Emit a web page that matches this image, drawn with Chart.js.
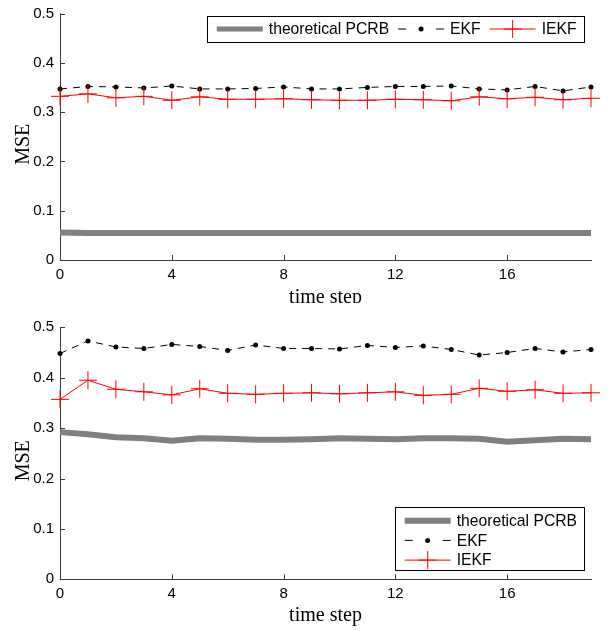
<!DOCTYPE html>
<html>
<head>
<meta charset="utf-8">
<script src="https://cdn.jsdelivr.net/npm/chart.js@4.4.1/dist/chart.umd.min.js"></script>
<style>
    html, body { margin: 0; padding: 0; background: #fff; }
    #wrap { position: relative; width: 611px; height: 631px; overflow: hidden; }
    canvas { position: absolute; left: 0; background: #fff; }
    #topChart { top: 0; }
    #bottomChart { top: 303px; }
</style>
</head>
<body>
<div id="wrap">
    <canvas id="topChart" width="611" height="320"></canvas>
    <canvas id="bottomChart" width="611" height="328"></canvas>
</div>
<script>
// ---- data ----
const timeSteps = [0, 1, 2, 3, 4, 5, 6, 7, 8, 9, 10, 11, 12, 13, 14, 15, 16, 17, 18, 19];
const xTickValues = [0, 4, 8, 12, 16];
const yTickValues = [0, 0.1, 0.2, 0.3, 0.4, 0.5];
const yTickLabels = ['0', '0.1', '0.2', '0.3', '0.4', '0.5'];
const seriesNames = ['theoretical PCRB', 'EKF', 'IEKF'];

// upper panel
const topPcrb = [0.056, 0.055, 0.055, 0.055, 0.055, 0.055, 0.055, 0.055, 0.055, 0.055,
                 0.055, 0.055, 0.055, 0.055, 0.055, 0.055, 0.055, 0.055, 0.055, 0.055];
const topEkf = [0.347, 0.352, 0.351, 0.349, 0.353, 0.347, 0.347, 0.348, 0.351, 0.347,
                0.347, 0.350, 0.352, 0.352, 0.353, 0.347, 0.345, 0.352, 0.343, 0.351];
const topIekf = [0.332, 0.337, 0.329, 0.332, 0.324, 0.331, 0.326, 0.326, 0.327, 0.325,
                 0.324, 0.324, 0.326, 0.325, 0.323, 0.331, 0.327, 0.330, 0.325, 0.328];

// lower panel
const bottomPcrb = [0.292, 0.288, 0.282, 0.280, 0.275, 0.280, 0.279, 0.277, 0.277, 0.278,
                    0.280, 0.279, 0.278, 0.280, 0.280, 0.279, 0.273, 0.276, 0.279, 0.278];
const bottomEkf = [0.448, 0.473, 0.461, 0.458, 0.466, 0.462, 0.454, 0.465, 0.458, 0.458,
                   0.457, 0.464, 0.460, 0.463, 0.456, 0.445, 0.450, 0.458, 0.451, 0.456];
const bottomIekf = [0.357, 0.395, 0.377, 0.372, 0.366, 0.378, 0.369, 0.367, 0.369, 0.370,
                    0.368, 0.370, 0.372, 0.365, 0.367, 0.379, 0.373, 0.376, 0.369, 0.370];

// ---- styling ----
const AXIS_COLOR = '#3a3a3a';
const TICK_LEN = 5;
const SANS = 'Liberation Sans, Arial, sans-serif';
const SERIF = 'Liberation Serif, Times New Roman, serif';
const LEGEND_FONT = '15.7px ' + SANS;

Chart.defaults.font.family = SANS;
Chart.defaults.color = '#000';

/**
 * MATLAB style ticks: short marks pointing into the plot area
 */
const inwardTicks = {
    id: 'inwardTicks',
    afterDraw(chart) {
        const {ctx, chartArea, scales} = chart;
        ctx.save();
        ctx.strokeStyle = AXIS_COLOR;
        ctx.lineWidth = 1;
        ctx.beginPath();
        scales.x.ticks.forEach(t => {
            const px = Math.round(scales.x.getPixelForValue(t.value)) + 0.5;
            ctx.moveTo(px, chartArea.bottom);
            ctx.lineTo(px, chartArea.bottom - TICK_LEN);
        });
        scales.y.ticks.forEach(t => {
            const py = Math.round(scales.y.getPixelForValue(t.value)) + 0.5;
            ctx.moveTo(chartArea.left, py);
            ctx.lineTo(chartArea.left + TICK_LEN, py);
        });
        ctx.stroke();
        ctx.restore();
    }
};

function drawMarker(ctx, ds, x, y) {
    if (!ds.pointRadius) return;
    const r = ds.pointRadius;
    ctx.save();
    ctx.setLineDash([]);
    ctx.strokeStyle = ds.pointBorderColor;
    ctx.fillStyle = ds.pointBackgroundColor;
    ctx.lineWidth = ds.pointBorderWidth;
    ctx.beginPath();
    if (ds.pointStyle === 'cross') {
        ctx.moveTo(x - r, y); ctx.lineTo(x + r, y);
        ctx.moveTo(x, y - r); ctx.lineTo(x, y + r);
        ctx.stroke();
    } else {
        ctx.arc(x, y, r, 0, Math.PI * 2);
        ctx.fill();
    }
    ctx.restore();
}

/**
 * Boxed legend drawn inside the plot area (row or column layout)
 */
const boxLegend = {
    id: 'boxLegend',
    afterDraw(chart, args, opts) {
        const {ctx, chartArea} = chart;
        const sets = chart.data.datasets;
        const sampleW = 46, textGap = 6, itemGap = 9, padL = 10, padR = 7;
        ctx.save();
        ctx.font = LEGEND_FONT;
        const widths = sets.map(ds => ctx.measureText(ds.label).width);
        let boxW;
        if (opts.direction === 'row') {
            boxW = padL + padR + itemGap * (sets.length - 1) +
                widths.reduce((a, w) => a + sampleW + textGap + w, 0);
        } else {
            boxW = padL + padR + sampleW + textGap + Math.max(...widths);
        }
        const left = chartArea.right - opts.right - boxW;
        const top = opts.top;

        ctx.fillStyle = '#fff';
        ctx.fillRect(left, top, boxW, opts.height);
        ctx.strokeStyle = '#000';
        ctx.lineWidth = 1;
        ctx.strokeRect(Math.round(left) + 0.5, Math.round(top) + 0.5, Math.round(boxW), Math.round(opts.height));

        let x = left + padL;
        sets.forEach((ds, i) => {
            const y = opts.direction === 'row' ? top + opts.firstRow : top + opts.firstRow + i * opts.rowStep;
            const x0 = opts.direction === 'row' ? x : left + padL;
            const x1 = x0 + sampleW;
            // line sample
            ctx.save();
            ctx.strokeStyle = ds.borderColor;
            ctx.lineWidth = ds.legendLineWidth || ds.borderWidth;
            if (ds.borderDash) ctx.setLineDash([8, sampleW - 16]);
            ctx.beginPath();
            ctx.moveTo(x0, y);
            ctx.lineTo(x1, y);
            ctx.stroke();
            ctx.restore();
            drawMarker(ctx, ds, (x0 + x1) / 2, y);
            // label
            ctx.fillStyle = '#000';
            ctx.textBaseline = 'middle';
            ctx.textAlign = 'left';
            ctx.fillText(ds.label, x1 + textGap, y + 1);
            x = x1 + textGap + widths[i] + itemGap;
        });
        ctx.restore();
    }
};

function buildDatasets(pcrb, ekf, iekf, legendPcrbWidth) {
    const pts = vals => timeSteps.map((t, i) => ({x: t, y: vals[i]}));
    return [{
        label: seriesNames[0],
        data: pts(pcrb),
        borderColor: '#808080',
        borderWidth: 6,
        legendLineWidth: legendPcrbWidth,
        pointRadius: 0,
        order: 3
    }, {
        label: seriesNames[1],
        data: pts(ekf),
        borderColor: '#000',
        borderWidth: 1,
        borderDash: [7, 6],
        pointStyle: 'circle',
        pointRadius: 2.5,
        pointBorderWidth: 0,
        pointBackgroundColor: '#000',
        pointBorderColor: '#000',
        order: 2
    }, {
        label: seriesNames[2],
        data: pts(iekf),
        borderColor: '#ff0000',
        borderWidth: 1,
        pointStyle: 'cross',
        pointRadius: 9,
        pointBorderWidth: 1,
        pointBackgroundColor: '#ff0000',
        pointBorderColor: '#ff0000',
        order: 1
    }];
}

function makePanel(canvasId, datasets, cfg) {
    const ctx = document.getElementById(canvasId).getContext('2d');
    return new Chart(ctx, {
        type: 'line',
        data: { datasets: datasets },
        options: {
            responsive: false,
            animation: false,
            devicePixelRatio: 1,
            clip: false,
            elements: { line: { tension: 0, fill: false, borderCapStyle: 'butt' } },
            layout: { padding: { left: 0, right: 20, top: cfg.padTop, bottom: 0 } },
            plugins: {
                legend: { display: false },
                tooltip: { enabled: false },
                boxLegend: cfg.legend
            },
            scales: {
                x: {
                    type: 'linear',
                    min: 0,
                    max: 19,
                    afterBuildTicks: s => { s.ticks = xTickValues.map(v => ({value: v})); },
                    afterFit: s => { s.height = cfg.xHeight; },
                    grid: { display: false, drawTicks: false },
                    border: { display: true, color: AXIS_COLOR, width: 1 },
                    ticks: {
                        padding: 7,
                        maxRotation: 0,
                        font: { size: 15, lineHeight: 1 },
                        callback: v => String(v)
                    },
                    title: {
                        display: true,
                        text: 'time step',
                        font: { family: SERIF, size: 20, lineHeight: 1.2 },
                        padding: { top: 0, bottom: cfg.xTitlePad }
                    }
                },
                y: {
                    min: 0,
                    max: 0.5,
                    afterBuildTicks: s => { s.ticks = yTickValues.map(v => ({value: v})); },
                    afterFit: s => { s.width = 60; },
                    grid: { display: false, drawTicks: false },
                    border: { display: true, color: AXIS_COLOR, width: 1 },
                    ticks: {
                        padding: 6,
                        font: { size: 15, lineHeight: 1 },
                        callback: (v, i) => yTickLabels[i]
                    },
                    title: {
                        display: true,
                        text: 'MSE   ',
                        font: { family: SERIF, size: 20, lineHeight: 1.2 },
                        padding: { top: 12, bottom: 0 }
                    }
                }
            }
        },
        plugins: [inwardTicks, boxLegend]
    });
}

makePanel('topChart', buildDatasets(topPcrb, topEkf, topIekf, 5), {
    padTop: 8,
    xHeight: 60,
    xTitlePad: 10.5,
    legend: { direction: 'row', right: 7.5, top: 16, height: 26, firstRow: 13 }
});

makePanel('bottomChart', buildDatasets(bottomPcrb, bottomEkf, bottomIekf, 6), {
    padTop: 24.3,
    xHeight: 51.7,
    xTitlePad: 3,
    legend: { direction: 'column', right: 7, top: 204.3, height: 63.4, firstRow: 13.4, rowStep: 19.7 }
});
</script>
</body>
</html>
